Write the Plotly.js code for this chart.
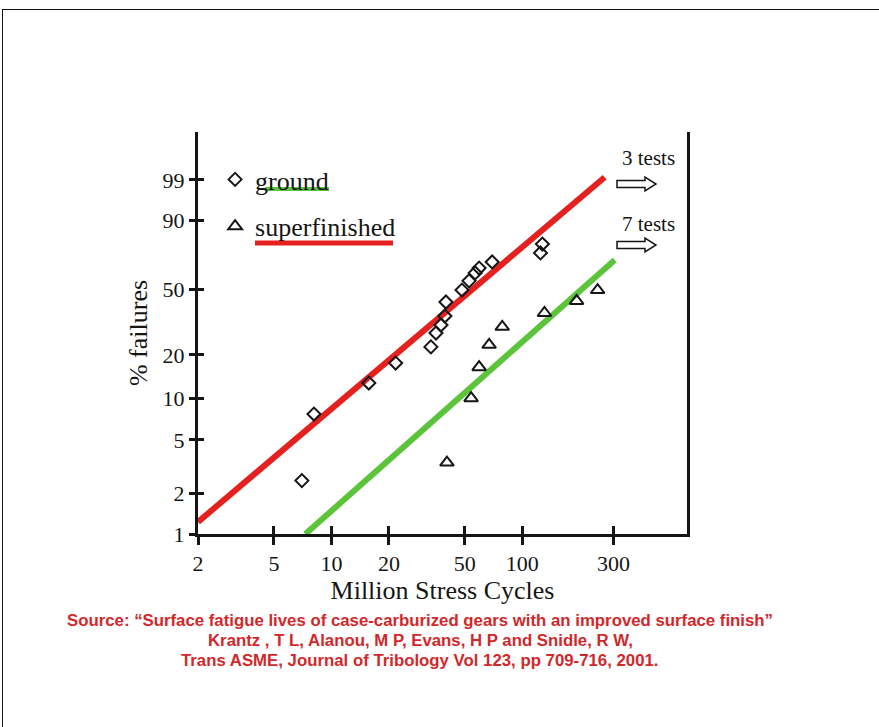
<!DOCTYPE html>
<html><head><meta charset="utf-8">
<script src="https://cdn.plot.ly/plotly-3.0.1.min.js"></script>
<style>
html,body{margin:0;padding:0;background:#fff;}
#wrap{position:relative;width:879px;height:727px;overflow:hidden;}
#chart{width:879px;height:727px;}
#frame{position:absolute;left:2px;top:9px;right:-5px;bottom:-5px;border-top:1.5px solid #111;border-left:1.5px solid #111;pointer-events:none;}
</style></head><body>
<div id="wrap"><div id="chart"></div><div id="frame"></div></div>
<script>
// ---- data ----
const groundCycles = [7.0, 8.1, 15.7, 21.7, 33.2, 35.3, 37.5, 39.3, 39.8, 48.3, 52.6, 56.6, 59.4, 69.5, 124.5, 127.4];
const groundPct    = [2.5, 7.7, 12.8, 17.6, 22.6, 27.8, 31.2, 35.4, 42.7, 49.6, 55.2, 60.2, 63.3, 67.2, 72.8, 78.1];
const superCycles  = [40.3, 53.9, 59.4, 67.0, 78.5, 130.6, 192.4, 248];
const superPct     = [3.4, 10.0, 16.5, 23.3, 30.4, 36.9, 43.3, 49.6];
const groundFitCycles = [2, 270];
const groundFitPct    = [1.23, 99.2];
const superFitCycles  = [7.3, 305];
const superFitPct     = [1.0, 68.4];
const xTicks = [2, 5, 10, 20, 50, 100, 300];
const yTicks = [1, 2, 5, 10, 20, 50, 90, 99];
const seriesNames = ['ground', 'superfinished'];
const suspendedLabels = ['3 tests', '7 tests'];
const sourceLines = [
  'Source: \u201cSurface fatigue lives of case-carburized gears with an improved surface finish\u201d',
  'Krantz , T L, Alanou, M P, Evans, H P and Snidle, R W,',
  'Trans ASME, Journal of Tribology Vol 123, pp 709-716, 2001.'
];
const xTitle = 'Million Stress Cycles';
const yTitle = '% failures';

// ---- Weibull probability scale ----
const weib = p => Math.log(-Math.log(1 - p / 100));

const W = 879, H = 727, L = 198, R = 687, T = 132, B = 534;
const px = x => (x - L) / (R - L);
const py = y => (B - y) / (B - T);

const RED = '#e4211f', GREEN = '#5bc43b', INK = '#151515', SRC = '#d2282b';
const serif = 'Liberation Serif, Times New Roman, serif';

const traces = [
  {x: groundFitCycles, y: groundFitPct.map(weib), mode: 'lines', line: {color: RED, width: 6}, showlegend: false, hoverinfo: 'skip'},
  {x: superFitCycles, y: superFitPct.map(weib), mode: 'lines', line: {color: GREEN, width: 6}, showlegend: false, hoverinfo: 'skip'},
  {x: groundCycles, y: groundPct.map(weib), xaxis: 'x2', yaxis: 'y2', mode: 'markers', name: seriesNames[0], legendgroup: 'a',
   marker: {symbol: 'diamond-open', size: 10, color: INK, line: {width: 2, color: INK}}},
  {x: superCycles, y: superPct.map(weib), xaxis: 'x2', yaxis: 'y2', mode: 'markers', name: seriesNames[1], legendgroup: 'b',
   marker: {symbol: 'triangle-up-open', size: 12, color: INK, line: {width: 2, color: INK}}}
];

const xr = [Math.log10(2), Math.log10(729)];
const yr = [weib(1), 2.357];
const tickFont = {family: serif, size: 22, color: INK};

const annotations = [];
const shapes = [
  {type: 'line', xref: 'paper', yref: 'paper', x0: px(265), x1: px(329), y0: py(189), y1: py(189), line: {color: GREEN, width: 4}},
  {type: 'line', xref: 'paper', yref: 'paper', x0: px(255), x1: px(393), y0: py(243), y1: py(243), line: {color: RED, width: 5}}
];
function hollowArrow(x0, x1, cy) {
  const hx = x1 - 11, sh = 3.5, hh = 7;
  const pts = [[x0, cy - sh], [hx, cy - sh], [hx, cy - hh], [x1, cy], [hx, cy + hh], [hx, cy + sh], [x0, cy + sh]];
  return 'M' + pts.map(p => px(p[0]) + ',' + py(p[1])).join(' L') + ' Z';
}
suspendedLabels.forEach((t, i) => {
  const ty = [158, 224][i], ay = [184, 245][i];
  annotations.push({xref: 'paper', yref: 'paper', x: px(648), y: py(ty), text: t, showarrow: false,
    font: {family: serif, size: 21, color: INK}, xanchor: 'center', yanchor: 'middle'});
  shapes.push({type: 'path', xref: 'paper', yref: 'paper', path: hollowArrow(617, 656, ay),
    line: {color: INK, width: 1.5}, fillcolor: 'rgba(0,0,0,0)'});
});
sourceLines.forEach((t, i) => {
  annotations.push({xref: 'paper', yref: 'paper', x: px(420), y: py(620 + 20 * i), text: '<b>' + t + '</b>', showarrow: false,
    font: {family: 'Liberation Sans, Arial, sans-serif', size: 16.8, color: SRC}, xanchor: 'center', yanchor: 'middle'});
});

const layout = {
  width: W, height: H,
  margin: {l: L, r: W - R, t: T, b: H - B, pad: 0},
  paper_bgcolor: '#fff', plot_bgcolor: '#fff',
  showlegend: true,
  legend: {x: 0.035, y: py(156), xanchor: 'left', yanchor: 'top', bgcolor: 'rgba(0,0,0,0)',
    font: {family: serif, size: 26, color: INK}, traceorder: 'grouped', tracegroupgap: 10},
  xaxis: {type: 'log', range: xr, tickmode: 'array', tickvals: xTicks, ticktext: xTicks.map(String),
    ticks: 'outside', ticklen: 8, tickwidth: 3, tickcolor: INK, showline: true, linewidth: 3, linecolor: INK,
    showgrid: false, zeroline: false, tickfont: tickFont, fixedrange: true,
    title: {text: xTitle, font: {family: serif, size: 26, color: INK}, standoff: 6}},
  xaxis2: {type: 'log', range: xr, overlaying: 'x', anchor: 'y', side: 'bottom', tickmode: 'array', tickvals: xTicks,
    ticks: 'inside', ticklen: 8, tickwidth: 3, tickcolor: INK, showticklabels: false, showline: false,
    showgrid: false, zeroline: false, fixedrange: true},
  yaxis: {range: yr, tickmode: 'array', tickvals: yTicks.map(weib), ticktext: yTicks.map(String),
    ticks: 'outside', ticklen: 6, tickwidth: 3, tickcolor: INK, showline: true, mirror: true, linewidth: 3, linecolor: INK,
    showgrid: false, zeroline: false, tickfont: tickFont, fixedrange: true,
    title: {text: yTitle, font: {family: serif, size: 26, color: INK}, standoff: 8}},
  yaxis2: {range: yr, overlaying: 'y', anchor: 'x', side: 'left', tickmode: 'array', tickvals: yTicks.map(weib),
    ticks: 'inside', ticklen: 6, tickwidth: 3, tickcolor: INK, showticklabels: false, showline: false,
    showgrid: false, zeroline: false, fixedrange: true},
  annotations: annotations,
  shapes: shapes
};

Plotly.newPlot('chart', traces, layout, {displayModeBar: false, staticPlot: true});
</script>
</body></html>
